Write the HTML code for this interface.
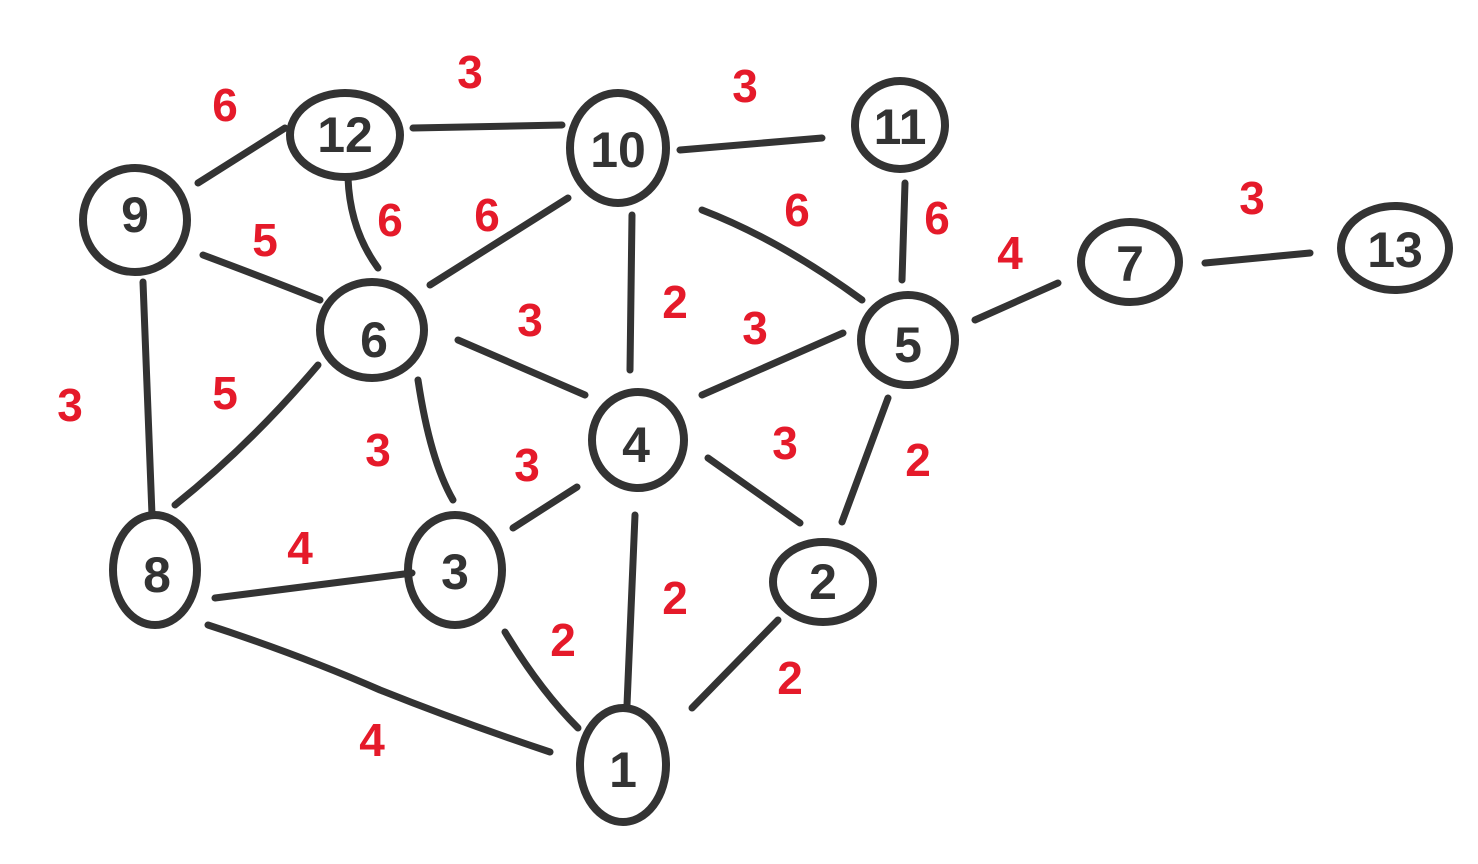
<!DOCTYPE html>
<html><head><meta charset="utf-8"><style>
html,body{margin:0;padding:0;background:#fff;}
svg{display:block}
.n{fill:none;stroke:#333;stroke-width:8}
.e{stroke:#333;stroke-width:7;stroke-linecap:round;fill:none}
.t{font-family:"Liberation Sans",sans-serif;font-size:50px;font-weight:bold;fill:#333;text-anchor:middle;dominant-baseline:central}
.w{font-family:"Liberation Sans",sans-serif;font-size:46px;font-weight:bold;fill:#e51a2a;text-anchor:middle;dominant-baseline:central}
</style></head><body>
<svg width="1478" height="864" viewBox="0 0 1478 864">
<g>
<ellipse class="n" cx="345" cy="135" rx="55" ry="42"/>
<ellipse class="n" cx="618" cy="148" rx="48" ry="55"/>
<ellipse class="n" cx="900" cy="125" rx="45" ry="44"/>
<ellipse class="n" cx="135" cy="220" rx="52" ry="52"/>
<ellipse class="n" cx="372" cy="330" rx="52" ry="48"/>
<ellipse class="n" cx="908" cy="340" rx="47" ry="45"/>
<ellipse class="n" cx="1130" cy="262" rx="49" ry="40"/>
<ellipse class="n" cx="1395" cy="248" rx="54" ry="42"/>
<ellipse class="n" cx="638" cy="440" rx="46" ry="48"/>
<ellipse class="n" cx="155" cy="570" rx="42" ry="55"/>
<ellipse class="n" cx="455" cy="570" rx="47" ry="55"/>
<ellipse class="n" cx="823" cy="582" rx="50" ry="40"/>
<ellipse class="n" cx="623" cy="765" rx="43" ry="57"/>
</g>
<g>
<line class="e" x1="198" y1="183" x2="285" y2="128"/>
<line class="e" x1="413" y1="128" x2="562" y2="125"/>
<line class="e" x1="680" y1="150" x2="822" y2="138"/>
<path class="e" d="M348 178 Q350 230 378 268"/>
<path class="e" d="M203 255 Q270 280 320 300"/>
<line class="e" x1="568" y1="198" x2="430" y2="285"/>
<line class="e" x1="632" y1="215" x2="630" y2="370"/>
<path class="e" d="M702 210 Q780 240 862 300"/>
<line class="e" x1="905" y1="183" x2="902" y2="280"/>
<line class="e" x1="975" y1="320" x2="1058" y2="283"/>
<line class="e" x1="1205" y1="263" x2="1310" y2="253"/>
<line class="e" x1="458" y1="340" x2="585" y2="395"/>
<line class="e" x1="702" y1="395" x2="843" y2="333"/>
<line class="e" x1="143" y1="282" x2="152" y2="515"/>
<path class="e" d="M318 365 Q250 445 175 505"/>
<path class="e" d="M418 380 Q430 460 453 500"/>
<line class="e" x1="577" y1="487" x2="513" y2="528"/>
<line class="e" x1="708" y1="458" x2="800" y2="523"/>
<line class="e" x1="888" y1="398" x2="842" y2="522"/>
<line class="e" x1="215" y1="598" x2="412" y2="573"/>
<path class="e" d="M208 625 Q300 655 380 690 Q460 722 550 752"/>
<path class="e" d="M505 632 Q540 690 578 728"/>
<line class="e" x1="635" y1="515" x2="627" y2="705"/>
<line class="e" x1="778" y1="620" x2="692" y2="708"/>
</g>
<g>
<text class="t" x="345" y="135">12</text>
<text class="t" x="618" y="150">10</text>
<text class="t" x="900" y="127">11</text>
<text class="t" x="135" y="215">9</text>
<text class="t" x="374" y="340">6</text>
<text class="t" x="908" y="345">5</text>
<text class="t" x="1130" y="264">7</text>
<text class="t" x="1395" y="250">13</text>
<text class="t" x="636" y="445">4</text>
<text class="t" x="157" y="575">8</text>
<text class="t" x="455" y="572">3</text>
<text class="t" x="823" y="582">2</text>
<text class="t" x="623" y="770">1</text>
</g>
<g>
<text class="w" x="225" y="105">6</text>
<text class="w" x="470" y="72">3</text>
<text class="w" x="745" y="86">3</text>
<text class="w" x="265" y="240">5</text>
<text class="w" x="390" y="220">6</text>
<text class="w" x="487" y="215">6</text>
<text class="w" x="797" y="210">6</text>
<text class="w" x="937" y="218">6</text>
<text class="w" x="1010" y="253">4</text>
<text class="w" x="1252" y="198">3</text>
<text class="w" x="70" y="405">3</text>
<text class="w" x="225" y="393">5</text>
<text class="w" x="530" y="320">3</text>
<text class="w" x="675" y="302">2</text>
<text class="w" x="755" y="328">3</text>
<text class="w" x="378" y="450">3</text>
<text class="w" x="527" y="465">3</text>
<text class="w" x="785" y="443">3</text>
<text class="w" x="918" y="460">2</text>
<text class="w" x="300" y="548">4</text>
<text class="w" x="675" y="598">2</text>
<text class="w" x="563" y="640">2</text>
<text class="w" x="790" y="678">2</text>
<text class="w" x="372" y="740">4</text>
</g>
</svg>
</body></html>
